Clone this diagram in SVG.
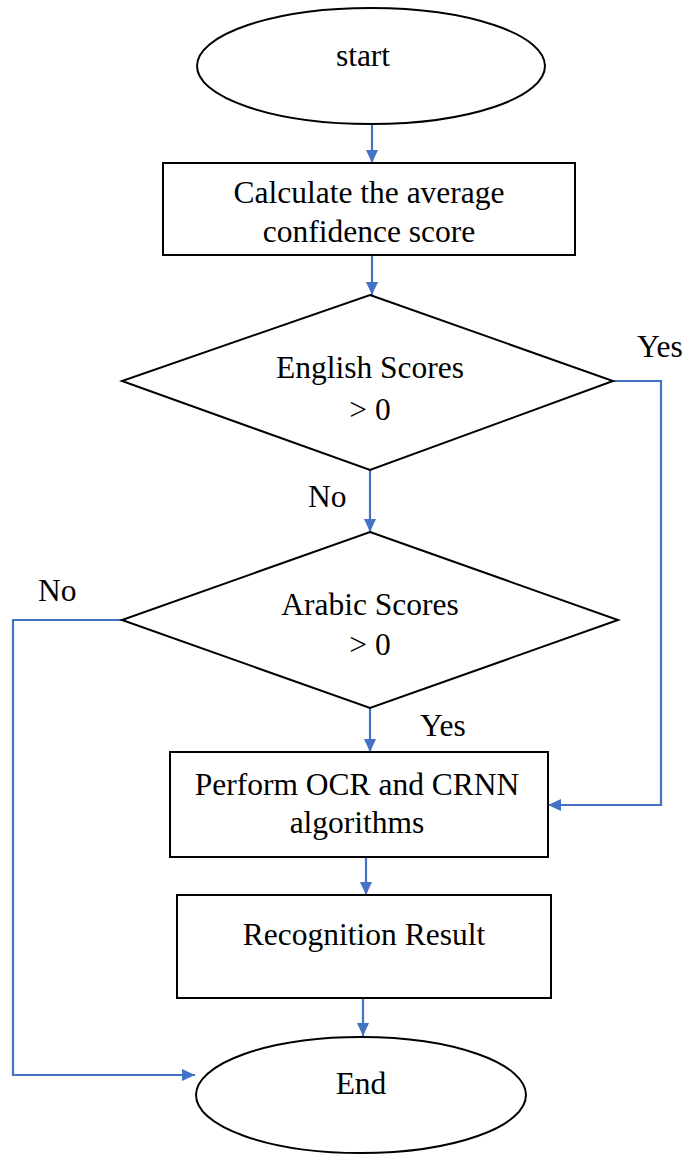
<svg xmlns="http://www.w3.org/2000/svg" width="687" height="1155" viewBox="0 0 687 1155">
  <style>
    .shape { fill: #ffffff; stroke: #000000; stroke-width: 2; }
    .label { font-family: "Liberation Serif", "Times New Roman", serif; font-size: 31.5px; fill: #000000; text-anchor: middle; }
    .tag { font-family: "Liberation Serif", "Times New Roman", serif; font-size: 31.5px; fill: #000000; }
    .link { fill: none; stroke: #4472C4; stroke-width: 2.2; }
  </style>
  <defs>
    <marker id="arrow" viewBox="0 0 10 10" refX="10" refY="5" markerWidth="13" markerHeight="12" markerUnits="userSpaceOnUse" orient="auto" preserveAspectRatio="none">
      <path d="M0,0 L10,5 L0,10 z" fill="#4472C4"/>
    </marker>
  </defs>
  <rect width="687" height="1155" fill="#ffffff"/>

  <!-- connectors -->
  <g id="connectors">
    <path class="link" d="M372,125 L372,163" marker-end="url(#arrow)"/>
    <path class="link" d="M372,255 L372,295" marker-end="url(#arrow)"/>
    <path class="link" d="M370,470 L370,532" marker-end="url(#arrow)"/>
    <path class="link" d="M613,381 L661,381 L661,805 L548,805" marker-end="url(#arrow)"/>
    <path class="link" d="M122,620 L13,620 L13,1075 L195,1075" marker-end="url(#arrow)"/>
    <path class="link" d="M370,708 L370,752" marker-end="url(#arrow)"/>
    <path class="link" d="M366,857 L366,895" marker-end="url(#arrow)"/>
    <path class="link" d="M363,998 L363,1036" marker-end="url(#arrow)"/>
  </g>

  <g id="start">
    <ellipse class="shape" cx="371" cy="66" rx="174" ry="58"/>
    <text class="label" x="363" y="66">start</text>
  </g>

  <g id="calculate">
    <rect class="shape" x="163" y="163" width="412" height="92"/>
    <text class="label" x="369" y="203">Calculate the average</text>
    <text class="label" x="369" y="242">confidence score</text>
  </g>

  <g id="english">
    <polygon class="shape" points="370,295 613,381 370,470 122,381"/>
    <text class="label" x="370" y="378">English Scores</text>
    <text class="label" x="370" y="420">&gt; 0</text>
  </g>

  <g id="arabic">
    <polygon class="shape" points="370,532 618,620 370,708 122,620"/>
    <text class="label" x="370" y="615">Arabic Scores</text>
    <text class="label" x="370" y="655">&gt; 0</text>
  </g>

  <g id="perform">
    <rect class="shape" x="170" y="752" width="378" height="105"/>
    <text class="label" x="357" y="795">Perform OCR and CRNN</text>
    <text class="label" x="357" y="833">algorithms</text>
  </g>

  <g id="result">
    <rect class="shape" x="177" y="895" width="374" height="103"/>
    <text class="label" x="364" y="945">Recognition Result</text>
  </g>

  <g id="end">
    <ellipse class="shape" cx="361" cy="1095" rx="165" ry="58"/>
    <text class="label" x="361" y="1094">End</text>
  </g>

  <g id="labels">
    <text class="tag" x="637" y="357">Yes</text>
    <text class="tag" x="308" y="507">No</text>
    <text class="tag" x="38" y="601">No</text>
    <text class="tag" x="420" y="736">Yes</text>
  </g>
</svg>
